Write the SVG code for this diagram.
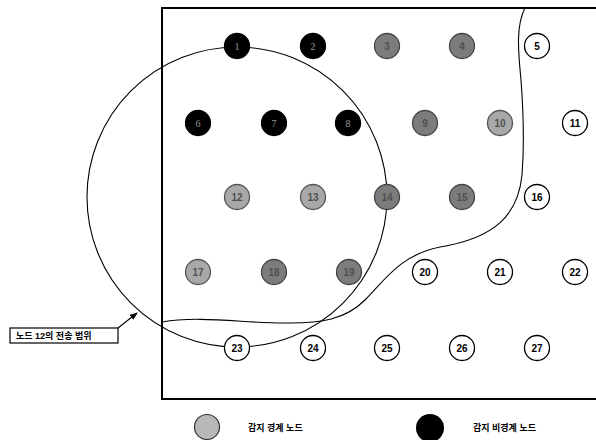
<svg xmlns="http://www.w3.org/2000/svg" width="596" height="440" viewBox="0 0 596 440">
<style>
.n circle{stroke:#000;stroke-width:1.3}
.w circle{fill:#fff}
.b circle{fill:#000}
.g circle{fill:#7c7c7c;stroke:#444}
.l circle{fill:#a8a8a8;stroke:#555}
text{font-family:"Liberation Sans",Arial,sans-serif;font-size:10px;font-weight:bold;text-anchor:middle}
.b text{fill:#9a9a9a;font-weight:normal;font-family:"Liberation Serif",serif}
.g text,.l text{fill:#505050}
.lab{font-size:9px;text-anchor:start;font-family:"Liberation Sans","Noto Sans CJK KR",sans-serif}
</style>
<defs>
<marker id="ah" markerWidth="8" markerHeight="6" refX="7" refY="3" orient="auto" markerUnits="userSpaceOnUse">
<path d="M0,0 L8,3 L0,6 z" fill="#000"/>
</marker>
</defs>
<rect x="162" y="8" width="440" height="391" fill="none" stroke="#000" stroke-width="2"/>
<g id="connectors" fill="none" stroke="#000" stroke-width="1.1">
<circle id="range12" cx="237" cy="197" r="150"/>
<path id="boundary" d="M525,8 C516,25 518,50 521,80 C524,120 524,150 522,175 C518,215 495,238 440,247 C400,255 385,280 365,300 C345,320 320,323 290,323 C250,324 200,315 162,322"/>
<line x1="118" y1="328" x2="137" y2="313" marker-end="url(#ah)"/>
</g>
<g id="n1" class="n b"><circle cx="237" cy="46" r="12.5"/><text x="237" y="50">1</text></g>
<g id="n2" class="n b"><circle cx="313" cy="46" r="12.5"/><text x="313" y="50">2</text></g>
<g id="n3" class="n g"><circle cx="387" cy="46" r="12.5"/><text x="387" y="50">3</text></g>
<g id="n4" class="n g"><circle cx="462" cy="46" r="12.5"/><text x="462" y="50">4</text></g>
<g id="n5" class="n w"><circle cx="537" cy="46" r="12.5"/><text x="537" y="50">5</text></g>
<g id="n6" class="n b"><circle cx="198" cy="123" r="12.5"/><text x="198" y="127">6</text></g>
<g id="n7" class="n b"><circle cx="274" cy="123" r="12.5"/><text x="274" y="127">7</text></g>
<g id="n8" class="n b"><circle cx="348" cy="123" r="12.5"/><text x="348" y="127">8</text></g>
<g id="n9" class="n g"><circle cx="425" cy="123" r="12.5"/><text x="425" y="127">9</text></g>
<g id="n10" class="n l"><circle cx="500" cy="123" r="12.5"/><text x="500" y="127">10</text></g>
<g id="n11" class="n w"><circle cx="575" cy="123" r="12.5"/><text x="575" y="127">11</text></g>
<g id="n12" class="n l"><circle cx="237" cy="197" r="12.5"/><text x="237" y="201">12</text></g>
<g id="n13" class="n l"><circle cx="313" cy="197" r="12.5"/><text x="313" y="201">13</text></g>
<g id="n14" class="n g"><circle cx="387" cy="197" r="12.5"/><text x="387" y="201">14</text></g>
<g id="n15" class="n g"><circle cx="462" cy="197" r="12.5"/><text x="462" y="201">15</text></g>
<g id="n16" class="n w"><circle cx="537" cy="197" r="12.5"/><text x="537" y="201">16</text></g>
<g id="n17" class="n l"><circle cx="198" cy="272" r="12.5"/><text x="198" y="276">17</text></g>
<g id="n18" class="n g"><circle cx="274" cy="272" r="12.5"/><text x="274" y="276">18</text></g>
<g id="n19" class="n g"><circle cx="349" cy="272" r="12.5"/><text x="349" y="276">19</text></g>
<g id="n20" class="n w"><circle cx="425" cy="272" r="12.5"/><text x="425" y="276">20</text></g>
<g id="n21" class="n w"><circle cx="500" cy="272" r="12.5"/><text x="500" y="276">21</text></g>
<g id="n22" class="n w"><circle cx="575" cy="272" r="12.5"/><text x="575" y="276">22</text></g>
<g id="n23" class="n w"><circle cx="237" cy="348" r="12.5" fill="none"/><text x="237" y="352">23</text></g>
<g id="n24" class="n w"><circle cx="313" cy="348" r="12.5"/><text x="313" y="352">24</text></g>
<g id="n25" class="n w"><circle cx="387" cy="348" r="12.5"/><text x="387" y="352">25</text></g>
<g id="n26" class="n w"><circle cx="462" cy="348" r="12.5"/><text x="462" y="352">26</text></g>
<g id="n27" class="n w"><circle cx="537" cy="348" r="12.5"/><text x="537" y="352">27</text></g>
<g id="label">
<rect x="10" y="328" width="108" height="15" fill="#fff" stroke="#000" stroke-width="1.2"/>
<text class="lab" x="16" y="339">노드 12의 전송 범위</text>
</g>
<g id="legend">
<circle cx="207" cy="427" r="12.5" fill="#b8b8b8" stroke="#333" stroke-width="1.2"/>
<text class="lab" x="248" y="431">감지 경계 노드</text>
<circle cx="430" cy="428" r="14" fill="#000"/>
<text class="lab" x="473" y="431">감지 비경계 노드</text>
</g>
</svg>
